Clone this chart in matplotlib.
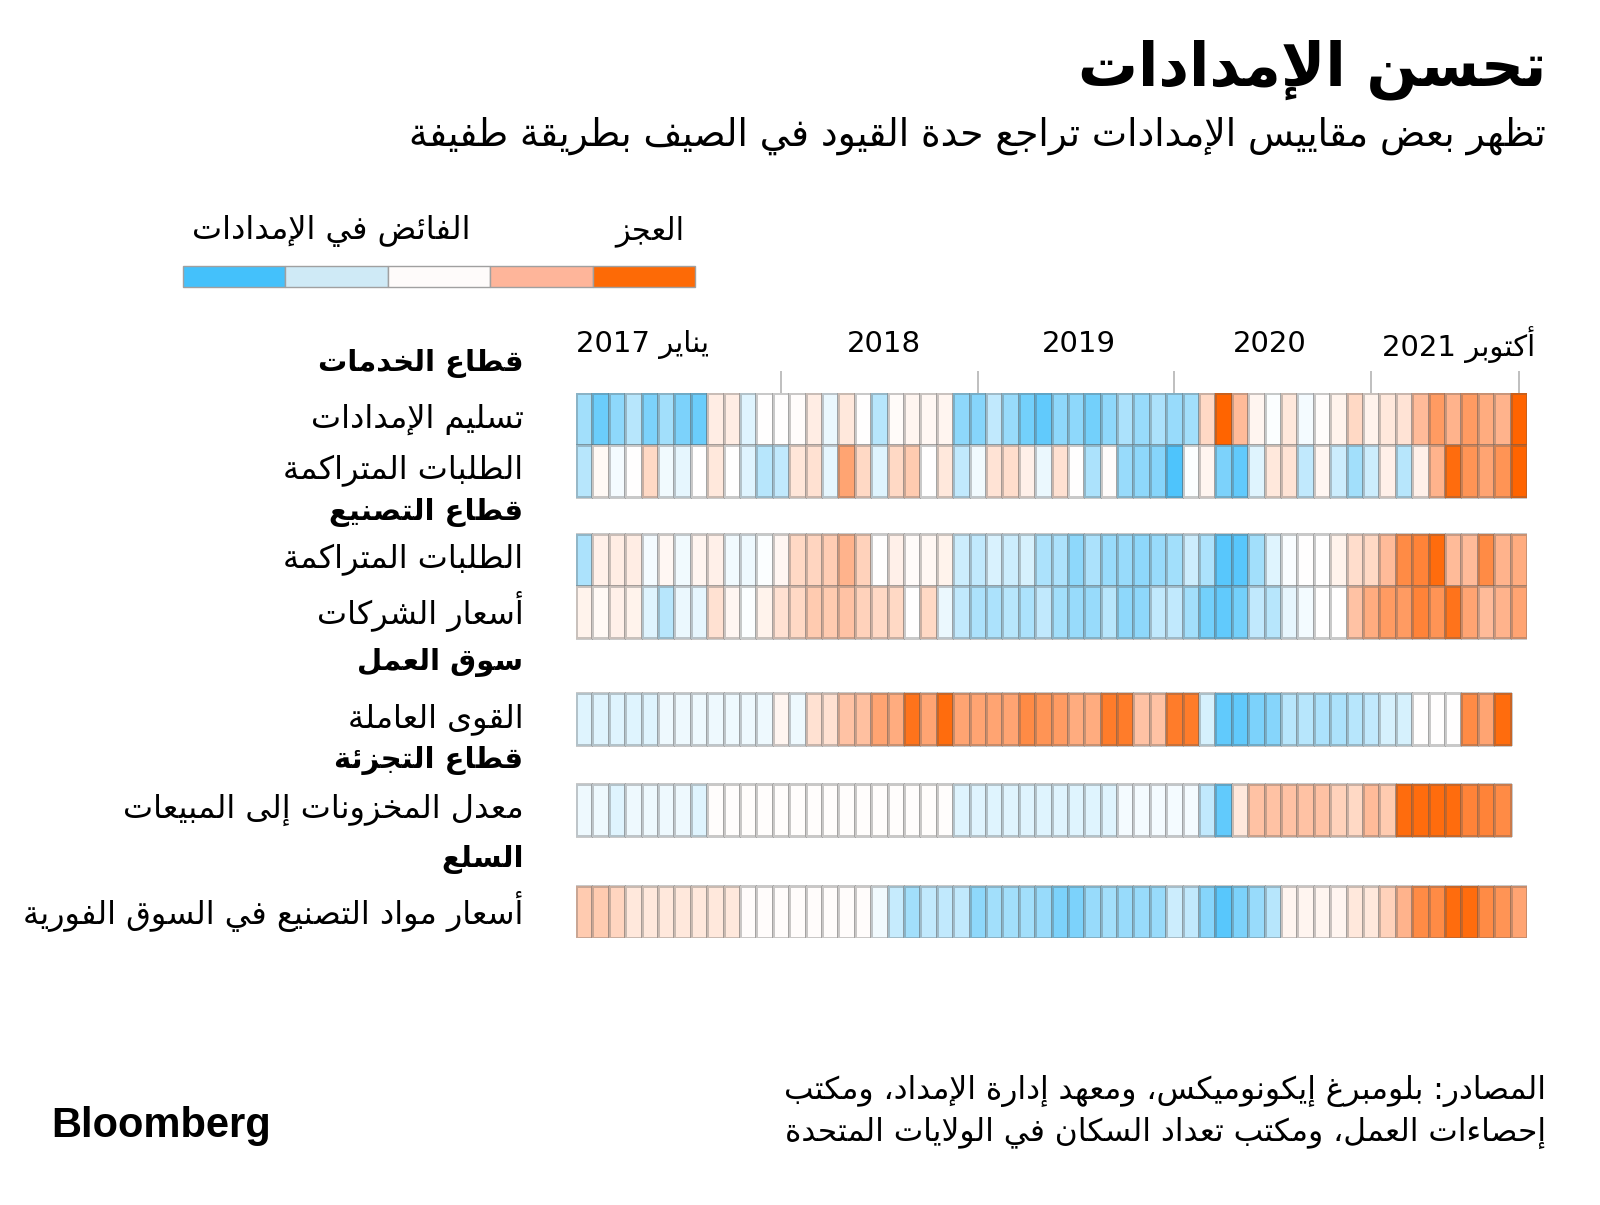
import re
import numpy as np
import matplotlib
matplotlib.use("Agg")
import matplotlib.pyplot as plt
from matplotlib.colors import LinearSegmentedColormap
from matplotlib.patches import Rectangle

# ---------------- data ----------------
title = "تحسن الإمدادات"
subtitle = "تظهر بعض مقاييس الإمدادات تراجع حدة القيود في الصيف بطريقة طفيفة"
legend_labels = ["الفائض في الإمدادات", "العجز"]
tick_months = [12, 24, 36, 48, 57]
year_labels = ["يناير 2017", "2018", "2019", "2020", "أكتوبر 2021"]
headers = ["قطاع الخدمات", "قطاع التصنيع", "سوق العمل", "قطاع التجزئة", "السلع"]
row_labels = ["تسليم الإمدادات", "الطلبات المتراكمة", "الطلبات المتراكمة",
              "أسعار الشركات", "القوى العاملة", "معدل المخزونات إلى المبيعات",
              "أسعار مواد التصنيع في السوق الفورية"]
source_lines = ["المصادر: بلومبرغ إيكونوميكس، ومعهد إدارة الإمداد، ومكتب",
                "إحصاءات العمل، ومكتب تعداد السكان في الولايات المتحدة"]

# values: -1 = strong surplus (blue), +1 = strong shortage (orange); Jan 2017 onward
services_deliveries = [-0.45, -0.75, -0.55, -0.35, -0.65, -0.45, -0.65, -0.75, 0.12, 0.12,
                       -0.15, 0.0, 0.0, 0.02, 0.12, -0.1, 0.15, 0.0, -0.35, 0.03,
                       0.07, 0.05, 0.07, -0.55, -0.6, -0.3, -0.5, -0.7, -0.8, -0.55,
                       -0.55, -0.7, -0.55, -0.4, -0.5, -0.4, -0.5, -0.45, 0.25, 1.0,
                       0.45, 0.07, -0.02, 0.15, -0.05, 0.02, 0.08, 0.25, 0.08, 0.15,
                       0.18, 0.45, 0.65, 0.5, 0.65, 0.55, 0.5, 1.0]
services_backlog = [-0.35, 0.04, -0.05, 0.0, 0.25, -0.07, -0.12, 0.0, 0.15, 0.0,
                    -0.15, -0.35, -0.3, 0.17, 0.2, -0.12, 0.6, 0.25, -0.15, 0.25,
                    0.35, 0.0, 0.15, -0.3, -0.07, 0.18, 0.22, 0.1, -0.1, 0.2,
                    0.0, -0.4, 0.02, -0.5, -0.55, -0.6, -0.9, -0.02, 0.07, -0.65,
                    -0.8, -0.15, 0.15, 0.18, -0.3, 0.06, -0.25, -0.45, -0.25, 0.1,
                    -0.35, 0.1, 0.5, 0.95, 0.7, 0.6, 0.7, 1.0]
mfg_backlog = [-0.4, 0.1, 0.12, 0.12, -0.05, 0.05, -0.07, 0.07, 0.1, -0.07,
               -0.08, -0.02, 0.06, 0.25, 0.28, 0.33, 0.5, 0.3, 0.0, 0.1,
               0.03, 0.05, 0.08, -0.25, -0.3, -0.18, -0.25, -0.2, -0.4, -0.4,
               -0.55, -0.4, -0.5, -0.5, -0.55, -0.5, -0.45, -0.25, -0.4, -0.85,
               -0.85, -0.45, -0.15, -0.03, 0.0, 0.0, 0.08, 0.22, 0.25, 0.45,
               0.75, 0.8, 0.95, 0.45, 0.45, 0.75, 0.5, 0.55]
mfg_prices = [0.08, 0.04, 0.1, 0.08, -0.15, -0.35, -0.1, -0.12, 0.2, 0.06,
              -0.02, 0.08, 0.2, 0.25, 0.35, 0.35, 0.4, 0.3, 0.25, 0.25,
              0.0, 0.25, -0.1, -0.3, -0.4, -0.4, -0.35, -0.4, -0.3, -0.45,
              -0.5, -0.5, -0.35, -0.55, -0.55, -0.3, -0.3, -0.45, -0.7, -0.8,
              -0.7, -0.3, -0.35, -0.12, -0.06, 0.0, 0.0, 0.4, 0.55, 0.65,
              0.65, 0.8, 0.7, 0.9, 0.6, 0.45, 0.5, 0.6]
labor_force = [-0.15, -0.15, -0.15, -0.15, -0.15, -0.08, -0.08, -0.08, -0.08, -0.08,
               -0.08, -0.08, 0.07, -0.08, 0.2, 0.2, 0.4, 0.42, 0.6, 0.55,
               0.9, 0.6, 0.95, 0.6, 0.6, 0.6, 0.6, 0.75, 0.7, 0.65,
               0.55, 0.55, 0.85, 0.85, 0.4, 0.4, 0.85, 0.85, -0.2, -0.8,
               -0.8, -0.65, -0.6, -0.35, -0.35, -0.4, -0.4, -0.35, -0.3, -0.2,
               -0.2, 0.0, 0.0, 0.0, 0.75, 0.6, 0.95]
retail_inventory = [-0.08, -0.08, -0.15, -0.08, -0.08, -0.08, -0.08, -0.15, 0.01, 0.01,
                    0.01, 0.01, 0.01, 0.01, 0.01, 0.01, 0.01, 0.01, 0.01, 0.01,
                    0.01, 0.01, 0.01, -0.15, -0.15, -0.15, -0.15, -0.15, -0.15, -0.15,
                    -0.15, -0.15, -0.15, -0.05, -0.05, -0.05, -0.05, -0.05, -0.3, -0.8,
                    0.15, 0.4, 0.4, 0.4, 0.4, 0.4, 0.3, 0.25, 0.45, 0.35,
                    0.95, 0.95, 0.95, 0.95, 0.8, 0.8, 0.75]
commodity_prices = [0.35, 0.35, 0.28, 0.15, 0.15, 0.15, 0.15, 0.15, 0.15, 0.15,
                    0.02, 0.02, 0.02, 0.02, 0.02, 0.02, 0.02, 0.02, -0.07, -0.28,
                    -0.45, -0.3, -0.3, -0.3, -0.55, -0.45, -0.45, -0.45, -0.5, -0.65,
                    -0.65, -0.5, -0.45, -0.5, -0.5, -0.5, -0.25, -0.3, -0.6, -0.85,
                    -0.65, -0.5, -0.35, 0.07, 0.07, 0.07, 0.07, 0.15, 0.15, 0.3,
                    0.5, 0.75, 0.75, 0.95, 0.95, 0.75, 0.7, 0.6]
series = [services_deliveries, services_backlog, mfg_backlog, mfg_prices,
          labor_force, retail_inventory, commodity_prices]

# ---------------- Arabic shaping (matplotlib has no complex text layout) ----------------
_DUAL = {0x626: 0xFE89, 0x628: 0xFE8F, 0x62A: 0xFE95, 0x62B: 0xFE99, 0x62C: 0xFE9D,
         0x62D: 0xFEA1, 0x62E: 0xFEA5, 0x633: 0xFEB1, 0x634: 0xFEB5, 0x635: 0xFEB9,
         0x636: 0xFEBD, 0x637: 0xFEC1, 0x638: 0xFEC5, 0x639: 0xFEC9, 0x63A: 0xFECD,
         0x641: 0xFED1, 0x642: 0xFED5, 0x643: 0xFED9, 0x644: 0xFEDD, 0x645: 0xFEE1,
         0x646: 0xFEE5, 0x647: 0xFEE9, 0x64A: 0xFEF1}
_RIGHT = {0x622: 0xFE81, 0x623: 0xFE83, 0x624: 0xFE85, 0x625: 0xFE87, 0x627: 0xFE8D,
          0x629: 0xFE93, 0x62F: 0xFEA9, 0x630: 0xFEAB, 0x631: 0xFEAD, 0x632: 0xFEAF,
          0x648: 0xFEED, 0x649: 0xFEEF}
_NONJ = {0x621: 0xFE80}
_LAMALEF = {0x622: 0xFEF5, 0x623: 0xFEF7, 0x625: 0xFEF9, 0x627: 0xFEFB}


def _shape(text):
    out = []
    prev_dual = False
    i, n = 0, len(text)
    while i < n:
        o = ord(text[i])
        if o == 0x644 and i + 1 < n and ord(text[i + 1]) in _LAMALEF:
            out.append(chr(_LAMALEF[ord(text[i + 1])] + (1 if prev_dual else 0)))
            prev_dual = False
            i += 2
            continue
        if o in _DUAL or o in _RIGHT:
            nxt = ord(text[i + 1]) if i + 1 < n else None
            cn = o in _DUAL and nxt is not None and (nxt in _DUAL or nxt in _RIGHT)
            if o in _DUAL:
                b = _DUAL[o]
                out.append(chr(b + (3 if prev_dual and cn else 1 if prev_dual else 2 if cn else 0)))
            else:
                out.append(chr(_RIGHT[o] + (1 if prev_dual else 0)))
            prev_dual = o in _DUAL
        elif o in _NONJ:
            out.append(chr(_NONJ[o]))
            prev_dual = False
        else:
            out.append(text[i])
            prev_dual = False
        i += 1
    return "".join(out)


def ar(text):
    s = _shape(text)[::-1]
    return re.sub(r"[0-9A-Za-z.]+", lambda m: m.group(0)[::-1], s)


# ---------------- style ----------------
AR = "DejaVu Sans"
cmap = LinearSegmentedColormap.from_list(
    "supply", [(0.0, "#3dbffc"), (0.25, "#98dbfb"), (0.5, "#ffffff"),
               (0.75, "#ffb48e"), (1.0, "#ff6400")])
legend_colors = ["#44c1fb", "#cfeaf6", "#fefbfa", "#feb59a", "#fd6a06"]

W, H = 1600, 1205
fig = plt.figure(figsize=(W / 100, H / 100), dpi=100)
bg = fig.add_axes([0, 0, 1, 1])
bg.set_xlim(0, W)
bg.set_ylim(H, 0)
bg.axis("off")

# titles
bg.text(1546, 70, ar(title), ha="right", va="center", fontsize=43,
        fontweight="bold", family=AR, color="#000000")
bg.text(1546, 136, ar(subtitle), ha="right", va="center", fontsize=27,
        family=AR, color="#000000")

# legend
lx0, lw, ly, lh = 183, 102.4, 266, 21
for k, col in enumerate(legend_colors):
    bg.add_patch(Rectangle((lx0 + k * lw, ly), lw, lh, facecolor=col,
                           edgecolor="#a0a0a0", linewidth=1))
bg.text(470, 231, ar(legend_labels[0]), ha="right", va="center", fontsize=23,
        family=AR)
bg.text(684, 231, ar(legend_labels[1]), ha="right", va="center", fontsize=22,
        family=AR)

# heatmap
n_months = 58
row_tops = [0, 1, 2.71, 3.71, 5.77, 7.52, 9.48]
header_y = [-0.56, 2.29, 5.19, 7.06, 8.98]
y_bottom = 10.48
top_px, bot_px, left_px, right_px = 393, 938, 576, 1527
ax = fig.add_axes([left_px / W, 1 - bot_px / H, (right_px - left_px) / W,
                   (bot_px - top_px) / H])
ax.set_xlim(0, n_months)
ax.set_ylim(y_bottom, 0)
ax.axis("off")

for top, vals in zip(row_tops, series):
    X = np.arange(len(vals) + 1)
    Y = np.array([top, top + 1])
    ax.pcolormesh(X, Y, np.array([vals]), cmap=cmap, vmin=-1, vmax=1,
                  edgecolors=(0.35, 0.35, 0.35, 0.32), linewidth=0.8)

ax.vlines(np.array(tick_months) + 0.5, -0.43, 0, colors="#b4b4b4",
          linewidth=1.2, clip_on=False)
label_x = [0, 18.8, 30.7, 42.3, 58.5]
label_ha = ["left", "center", "center", "center", "right"]
for x, lab, ha in zip(label_x, year_labels, label_ha):
    ax.text(x, -0.94, ar(lab), ha=ha, va="center", fontsize=21, family=AR,
            clip_on=False)

lab_x = -3.2
for hy, h in zip(header_y, headers):
    ax.text(lab_x, hy, ar(h), ha="right", va="center", fontsize=21,
            fontweight="bold", family=AR, clip_on=False)
for top, lab in zip(row_tops, row_labels):
    ax.text(lab_x, top + 0.5, ar(lab), ha="right", va="center", fontsize=23,
            family=AR, clip_on=False)

# footer
bg.text(1546, 1091, ar(source_lines[0]), ha="right", va="center", fontsize=22.5,
        family=AR)
bg.text(1546, 1132, ar(source_lines[1]), ha="right", va="center", fontsize=22.5,
        family=AR)
bg.text(51, 1126, "Bloomberg", ha="left", va="center", fontsize=30,
        fontweight="heavy", family="Liberation Sans", color="#000000")

fig.savefig("out.png", dpi=100, facecolor="white")
